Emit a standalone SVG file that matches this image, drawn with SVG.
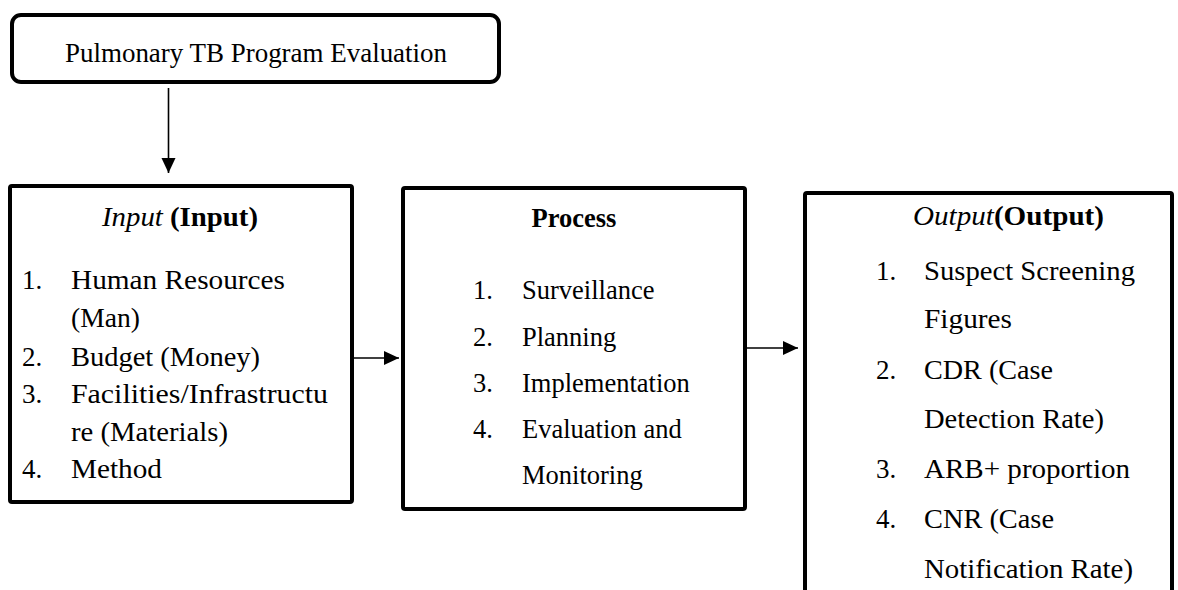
<svg xmlns="http://www.w3.org/2000/svg" width="1178" height="590" viewBox="0 0 1178 590">
<style>
text { font-family: "Liberation Serif", "Times New Roman", serif; font-size: 27px; fill: #000; }
.box { fill: #fff; stroke: #000; stroke-width: 4; }
.conn { stroke: #000; stroke-width: 1.6; fill: none; }
.b { font-weight: bold; }
.i { font-style: italic; }
.t { font-size: 28px; }
.p { font-size: 26.5px; }
</style>
<defs>
<marker id="ah" markerUnits="userSpaceOnUse" markerWidth="16" markerHeight="16" refX="15" refY="7" orient="auto" viewBox="0 0 16 14">
<path d="M0,0 L15,7 L0,14 z" fill="#000"/>
</marker>
</defs>
<rect width="1178" height="590" fill="#fff"/>
<g id="connectors">
<line class="conn" x1="168.5" y1="88" x2="168.5" y2="173" marker-end="url(#ah)"/>
<line class="conn" x1="353" y1="358" x2="399" y2="358" marker-end="url(#ah)"/>
<line class="conn" x1="745" y1="348" x2="798" y2="348" marker-end="url(#ah)"/>
</g>
<g id="node-top">
<rect class="box" x="12" y="15" width="487" height="67" rx="9"/>
<text class="t" x="256" y="62" text-anchor="middle" textLength="382" lengthAdjust="spacingAndGlyphs">Pulmonary TB Program Evaluation</text>
</g>
<g id="node-input">
<rect class="box" x="10" y="186" width="342" height="316" rx="2"/>
<text class="t" x="102" y="226" textLength="156" lengthAdjust="spacingAndGlyphs"><tspan class="i">Input</tspan> <tspan class="b">(Input)</tspan></text>
<text x="22" y="289">1.</text>
<text x="71" y="289" textLength="214" lengthAdjust="spacingAndGlyphs">Human Resources</text>
<text x="71" y="327" textLength="69" lengthAdjust="spacingAndGlyphs">(Man)</text>
<text x="22" y="366">2.</text>
<text x="71" y="366" textLength="189" lengthAdjust="spacingAndGlyphs">Budget (Money)</text>
<text x="22" y="403">3.</text>
<text x="71" y="403" textLength="257" lengthAdjust="spacingAndGlyphs">Facilities/Infrastructu</text>
<text x="71" y="441" textLength="157" lengthAdjust="spacingAndGlyphs">re (Materials)</text>
<text x="22" y="478">4.</text>
<text x="71" y="478" textLength="91" lengthAdjust="spacingAndGlyphs">Method</text>
</g>
<g id="node-process">
<rect class="box" x="403" y="188" width="342" height="321" rx="2"/>
<text class="b p" x="574" y="227" text-anchor="middle">Process</text>
<text class="p" x="473" y="299">1.</text>
<text class="p" x="522" y="299">Surveillance</text>
<text class="p" x="473" y="346">2.</text>
<text class="p" x="522" y="346">Planning</text>
<text class="p" x="473" y="392">3.</text>
<text class="p" x="522" y="392">Implementation</text>
<text class="p" x="473" y="438">4.</text>
<text class="p" x="522" y="438">Evaluation and</text>
<text class="p" x="522" y="484">Monitoring</text>
</g>
<g id="node-output">
<rect class="box" x="805" y="193" width="367" height="420" rx="2"/>
<text class="t" x="913" y="225" textLength="191" lengthAdjust="spacingAndGlyphs"><tspan class="i">Output</tspan><tspan class="b">(Output)</tspan></text>
<text x="876" y="280">1.</text>
<text x="924" y="280" textLength="211" lengthAdjust="spacingAndGlyphs">Suspect Screening</text>
<text x="924" y="328" textLength="88" lengthAdjust="spacingAndGlyphs">Figures</text>
<text x="876" y="379">2.</text>
<text x="924" y="379" textLength="129" lengthAdjust="spacingAndGlyphs">CDR (Case</text>
<text x="924" y="428" textLength="180" lengthAdjust="spacingAndGlyphs">Detection Rate)</text>
<text x="876" y="478">3.</text>
<text x="924" y="478" textLength="206" lengthAdjust="spacingAndGlyphs">ARB+ proportion</text>
<text x="876" y="528">4.</text>
<text x="924" y="528" textLength="130" lengthAdjust="spacingAndGlyphs">CNR (Case</text>
<text x="924" y="578" textLength="209" lengthAdjust="spacingAndGlyphs">Notification Rate)</text>
</g>
</svg>
